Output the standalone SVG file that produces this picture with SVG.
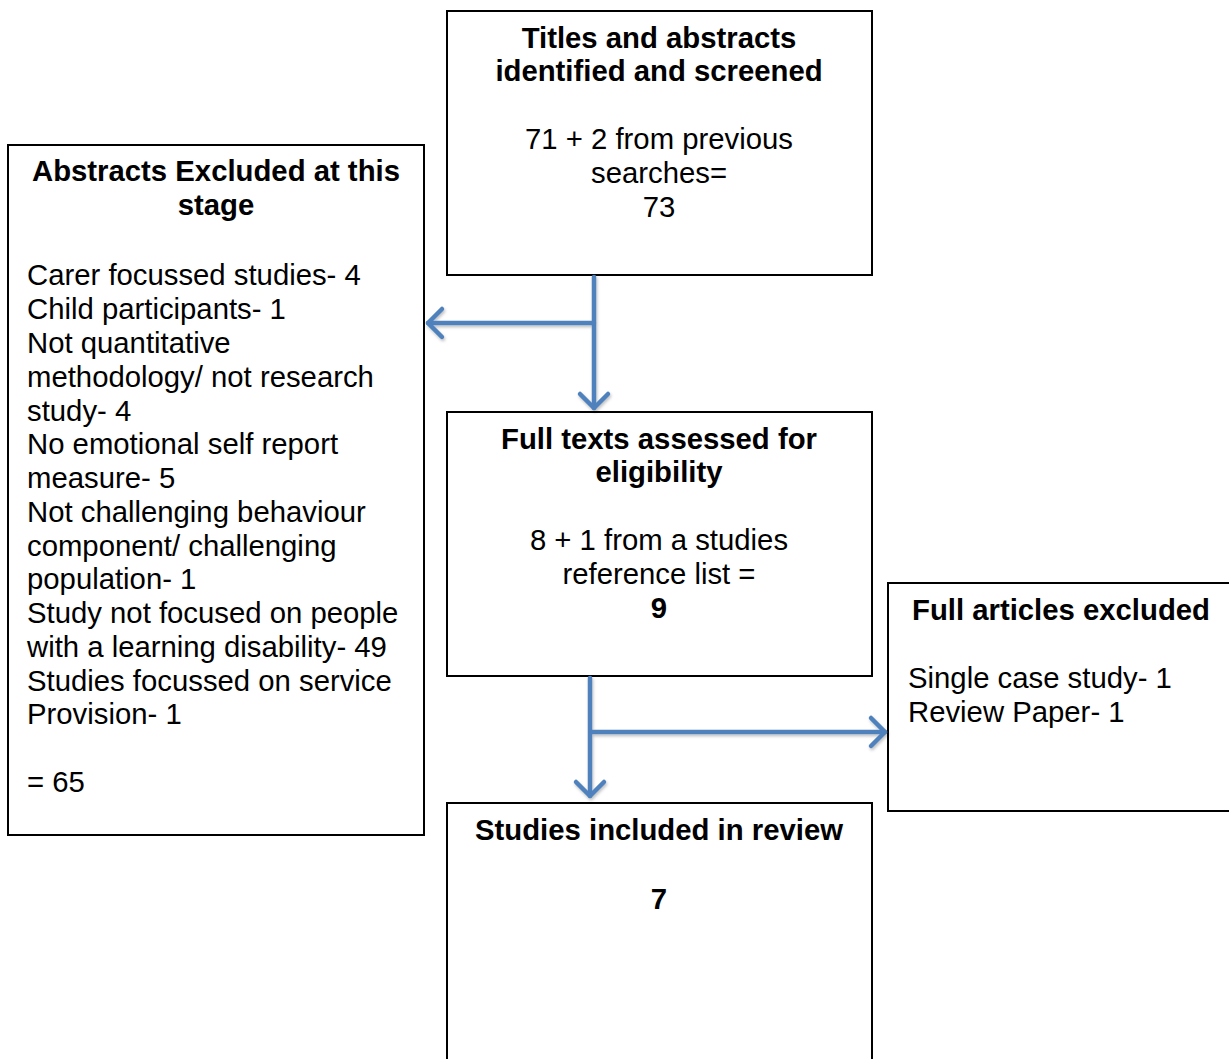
<svg xmlns="http://www.w3.org/2000/svg" width="1229" height="1059" viewBox="0 0 1229 1059">
<style>
.box{fill:#fff;stroke:#000;stroke-width:2}
text{font-family:"Liberation Sans",Arial,sans-serif;font-size:29.3px;fill:#000}
.b{font-weight:bold}
.c{text-anchor:middle}
.arr{fill:none;stroke:#4F81BD;stroke-width:4.5;stroke-linecap:round;stroke-linejoin:round}
</style>
<defs>
<filter id="sh" x="-10%" y="-10%" width="130%" height="130%"><feDropShadow dx="1" dy="2" stdDeviation="1.5" flood-color="#000" flood-opacity="0.25"/></filter>
</defs>
<rect width="1229" height="1059" fill="#fff"/>
<g id="node-titles">
<rect class="box" x="447" y="11" width="425" height="264"/>
<text class="b c" x="659" y="48">Titles and abstracts</text>
<text class="b c" x="659" y="81">identified and screened</text>
<text class="c" x="659" y="149">71 + 2 from previous</text>
<text class="c" x="659" y="183">searches=</text>
<text class="c" x="659" y="217">73</text>
</g>
<g id="node-abstracts-excluded">
<rect class="box" x="8" y="145" width="416" height="690"/>
<text class="b c" x="216" y="181">Abstracts Excluded at this</text>
<text class="b c" x="216" y="215">stage</text>
<text x="27" y="285">Carer focussed studies- 4</text>
<text x="27" y="319">Child participants- 1</text>
<text x="27" y="353">Not quantitative</text>
<text x="27" y="387">methodology/ not research</text>
<text x="27" y="421">study- 4</text>
<text x="27" y="454">No emotional self report</text>
<text x="27" y="488">measure- 5</text>
<text x="27" y="522">Not challenging behaviour</text>
<text x="27" y="556">component/ challenging</text>
<text x="27" y="589">population- 1</text>
<text x="27" y="623">Study not focused on people</text>
<text x="27" y="657">with a learning disability- 49</text>
<text x="27" y="691">Studies focussed on service</text>
<text x="27" y="724">Provision- 1</text>
<text x="27" y="792">= 65</text>
</g>
<g id="node-full-texts">
<rect class="box" x="447" y="412" width="425" height="264"/>
<text class="b c" x="659" y="449">Full texts assessed for</text>
<text class="b c" x="659" y="482">eligibility</text>
<text class="c" x="659" y="550">8 + 1 from a studies</text>
<text class="c" x="659" y="584">reference list =</text>
<text class="b c" x="659" y="618">9</text>
</g>
<g id="node-full-articles-excluded">
<rect class="box" x="888" y="583" width="345" height="228"/>
<text class="b c" x="1061" y="620">Full articles excluded</text>
<text x="908" y="688">Single case study- 1</text>
<text x="908" y="722">Review Paper- 1</text>
</g>
<g id="node-included">
<rect class="box" x="447" y="803" width="425" height="270"/>
<text class="b c" x="659" y="840">Studies included in review</text>
<text class="b c" x="659" y="909">7</text>
</g>
<g id="connectors" filter="url(#sh)">
<path class="arr" d="M594 277 V408"/>
<path class="arr" d="M580 394 L594 408 L608 394"/>
<path class="arr" d="M594 323 H428"/>
<path class="arr" d="M442 309 L428 323 L442 337"/>
<path class="arr" d="M590 678 V796"/>
<path class="arr" d="M576 782 L590 796 L604 782"/>
<path class="arr" d="M592 732 H885"/>
<path class="arr" d="M871 718 L885 732 L871 746"/>
</g>
</svg>
